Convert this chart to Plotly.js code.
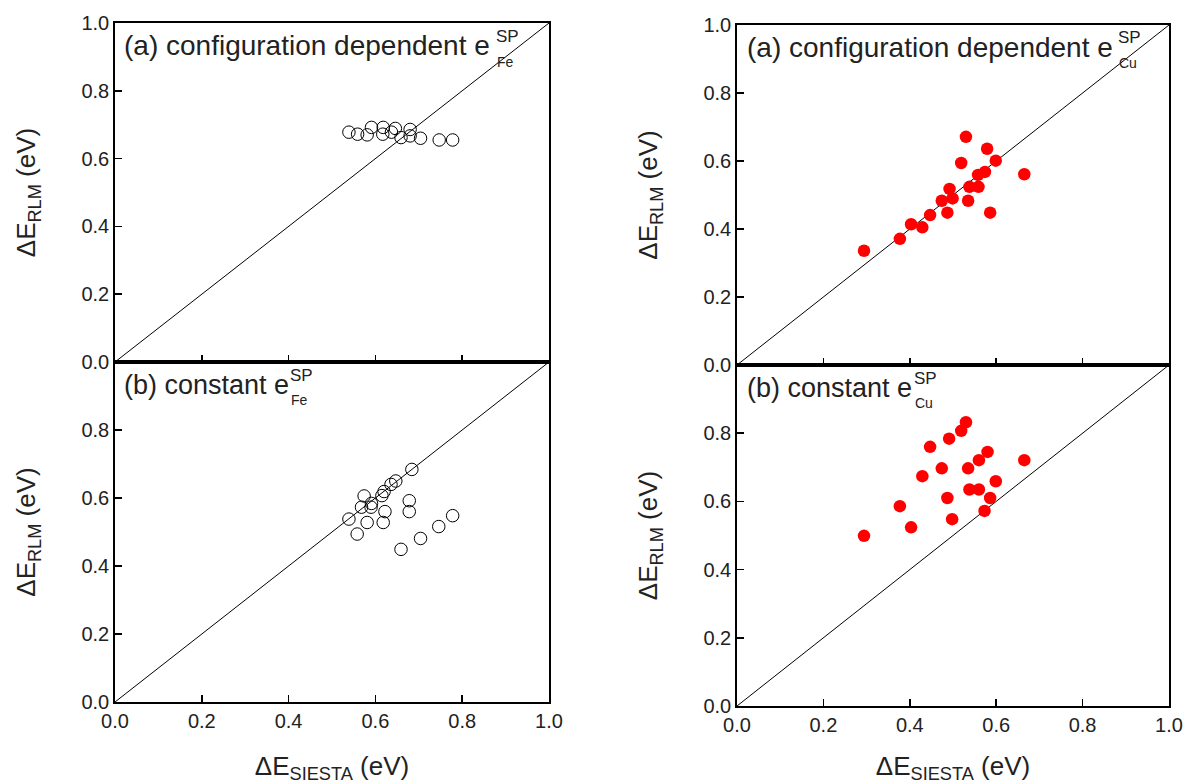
<!DOCTYPE html>
<html>
<head>
<meta charset="utf-8">
<script src="https://cdn.plot.ly/plotly-3.0.1.min.js"></script>
<style>html,body{margin:0;padding:0;background:#fff;}#chart{width:1187px;height:784px;}</style>
</head>
<body>
<div id="chart"></div>
<script>
// Fe, configuration dependent e^SP (panel a, left)
const feA_x = [0.539, 0.559, 0.581, 0.591, 0.618, 0.617, 0.637, 0.646, 0.659, 0.680, 0.680, 0.704, 0.747, 0.778];
const feA_y = [0.678, 0.672, 0.670, 0.692, 0.692, 0.672, 0.678, 0.689, 0.662, 0.686, 0.667, 0.660, 0.655, 0.655];
// Fe, constant e^SP (panel b, left)
const feB_x = [0.539, 0.558, 0.568, 0.574, 0.581, 0.590, 0.591, 0.615, 0.620, 0.622, 0.618, 0.636, 0.647, 0.659, 0.678, 0.678, 0.684, 0.704, 0.746, 0.778];
const feB_y = [0.538, 0.494, 0.573, 0.606, 0.528, 0.573, 0.584, 0.607, 0.619, 0.560, 0.528, 0.640, 0.650, 0.449, 0.592, 0.560, 0.684, 0.481, 0.516, 0.548];
// Cu, configuration dependent e^SP (panel a, right)
const cuA_x = [0.294, 0.377, 0.403, 0.429, 0.447, 0.474, 0.487, 0.492, 0.499, 0.519, 0.530, 0.535, 0.538, 0.559, 0.558, 0.574, 0.579, 0.586, 0.599, 0.665];
const cuA_y = [0.336, 0.371, 0.414, 0.405, 0.441, 0.483, 0.448, 0.518, 0.490, 0.594, 0.671, 0.483, 0.524, 0.524, 0.559, 0.568, 0.636, 0.448, 0.601, 0.561];
// Cu, constant e^SP (panel b, right)
const cuB_x = [0.294, 0.377, 0.403, 0.429, 0.447, 0.474, 0.487, 0.491, 0.498, 0.519, 0.530, 0.535, 0.538, 0.560, 0.560, 0.580, 0.586, 0.573, 0.599, 0.665];
const cuB_y = [0.499, 0.586, 0.524, 0.674, 0.760, 0.697, 0.610, 0.784, 0.548, 0.807, 0.832, 0.697, 0.635, 0.635, 0.721, 0.745, 0.610, 0.572, 0.659, 0.721];
// identity line y = x
const diag = [0, 1];
const tickVals = [0, 0.2, 0.4, 0.6, 0.8, 1.0];
const tickText = ["0.0", "0.2", "0.4", "0.6", "0.8", "1.0"];
const tickValsLow = [0, 0.2, 0.4, 0.6, 0.8];
const tickTextLow = ["0.0", "0.2", "0.4", "0.6", "0.8"];

const font = "Liberation Sans, Arial, Helvetica, sans-serif";
const openCircle = {symbol: 'circle-open', size: 12.5, color: '#000', line: {width: 1, color: '#000'}};
const redCircle = {symbol: 'circle', size: 12.5, color: '#ff0000', line: {width: 0}};
const lineStyle = {color: '#000', width: 1};

const traces = [];
[['x','y'],['x2','y2'],['x3','y3'],['x4','y4']].forEach(([xa,ya]) => {
  traces.push({x: diag, y: diag, xaxis: xa, yaxis: ya, mode: 'lines', line: lineStyle, hoverinfo: 'skip', showlegend: false});
});
traces.push({x: feA_x, y: feA_y, xaxis: 'x', yaxis: 'y', mode: 'markers', marker: openCircle, showlegend: false, name: 'Fe (a)'});
traces.push({x: feB_x, y: feB_y, xaxis: 'x2', yaxis: 'y2', mode: 'markers', marker: openCircle, showlegend: false, name: 'Fe (b)'});
traces.push({x: cuA_x, y: cuA_y, xaxis: 'x3', yaxis: 'y3', mode: 'markers', marker: redCircle, showlegend: false, name: 'Cu (a)'});
traces.push({x: cuB_x, y: cuB_y, xaxis: 'x4', yaxis: 'y4', mode: 'markers', marker: redCircle, showlegend: false, name: 'Cu (b)'});

const W = 1187, H = 784;
const px = v => v / W;
const py = v => 1 - v / H;

function xAxis(dom, anchor, labels) {
  const a = {
    domain: dom, anchor: anchor, range: [0, 1], showgrid: false, zeroline: false,
    showline: true, linecolor: '#000', linewidth: 1.8, mirror: true,
    ticks: 'inside', ticklen: 7, tickwidth: 1.5, tickcolor: '#000',
    tickvals: tickVals, ticktext: tickText, showticklabels: labels,
    tickfont: {family: font, size: 20, color: '#222'}
  };
  if (labels) {
    a.title = {text: 'ΔE<sub>SIESTA</sub> (eV)', font: {family: font, size: 26, color: '#222'}, standoff: 27};
  }
  return a;
}
function yAxis(dom, anchor, low) {
  return {
    domain: dom, anchor: anchor, range: [0, 1], showgrid: false, zeroline: false,
    showline: true, linecolor: '#000', linewidth: 1.8, mirror: true,
    ticks: 'inside', ticklen: 7, tickwidth: 1.5, tickcolor: '#000',
    tickvals: low ? tickValsLow : tickVals, ticktext: low ? tickTextLow : tickText,
    tickfont: {family: font, size: 20, color: '#222'},
    title: {text: 'ΔE<sub>RLM</sub> (eV)', font: {family: font, size: 26, color: '#222'}, standoff: 38}
  };
}

const LX = [px(115), px(549)], RX = [px(737), px(1169)];
const LYt = [py(362), py(23)], LYb = [py(702), py(362)];
const RYt = [py(365), py(25)], RYb = [py(706), py(365)];

function ann(text, x, y, size, anchor) {
  return {text: text, x: px(x), y: py(y), xref: 'paper', yref: 'paper', xanchor: anchor || 'left', yanchor: 'middle',
    showarrow: false, font: {family: font, size: size, color: '#222'}};
}

const annotations = [
  ann('(a) configuration dependent e', 122, 45, 28),
  ann('SP', 494, 36, 17), ann('Fe', 495, 62, 14),
  ann('(b) constant e', 122, 385, 27),
  ann('SP', 288, 375, 17), ann('Fe', 289, 400, 14),
  ann('(a) configuration dependent e', 745, 48, 28),
  ann('SP', 1116, 37, 17), ann('Cu', 1117, 63, 14),
  ann('(b) constant e', 745, 388, 27),
  ann('SP', 912, 378, 17), ann('Cu', 913, 403, 14)
];

const layout = {
  width: W, height: H, margin: {l: 0, r: 0, t: 0, b: 0},
  paper_bgcolor: '#fff', plot_bgcolor: '#fff', showlegend: false,
  xaxis: xAxis(LX, 'y', false), yaxis: yAxis(LYt, 'x', false),
  xaxis2: xAxis(LX, 'y2', true), yaxis2: yAxis(LYb, 'x2', true),
  xaxis3: xAxis(RX, 'y3', false), yaxis3: yAxis(RYt, 'x3', false),
  xaxis4: xAxis(RX, 'y4', true), yaxis4: yAxis(RYb, 'x4', true),
  annotations: annotations
};

Plotly.newPlot('chart', traces, layout, {displayModeBar: false, staticPlot: true});
</script>
</body>
</html>
